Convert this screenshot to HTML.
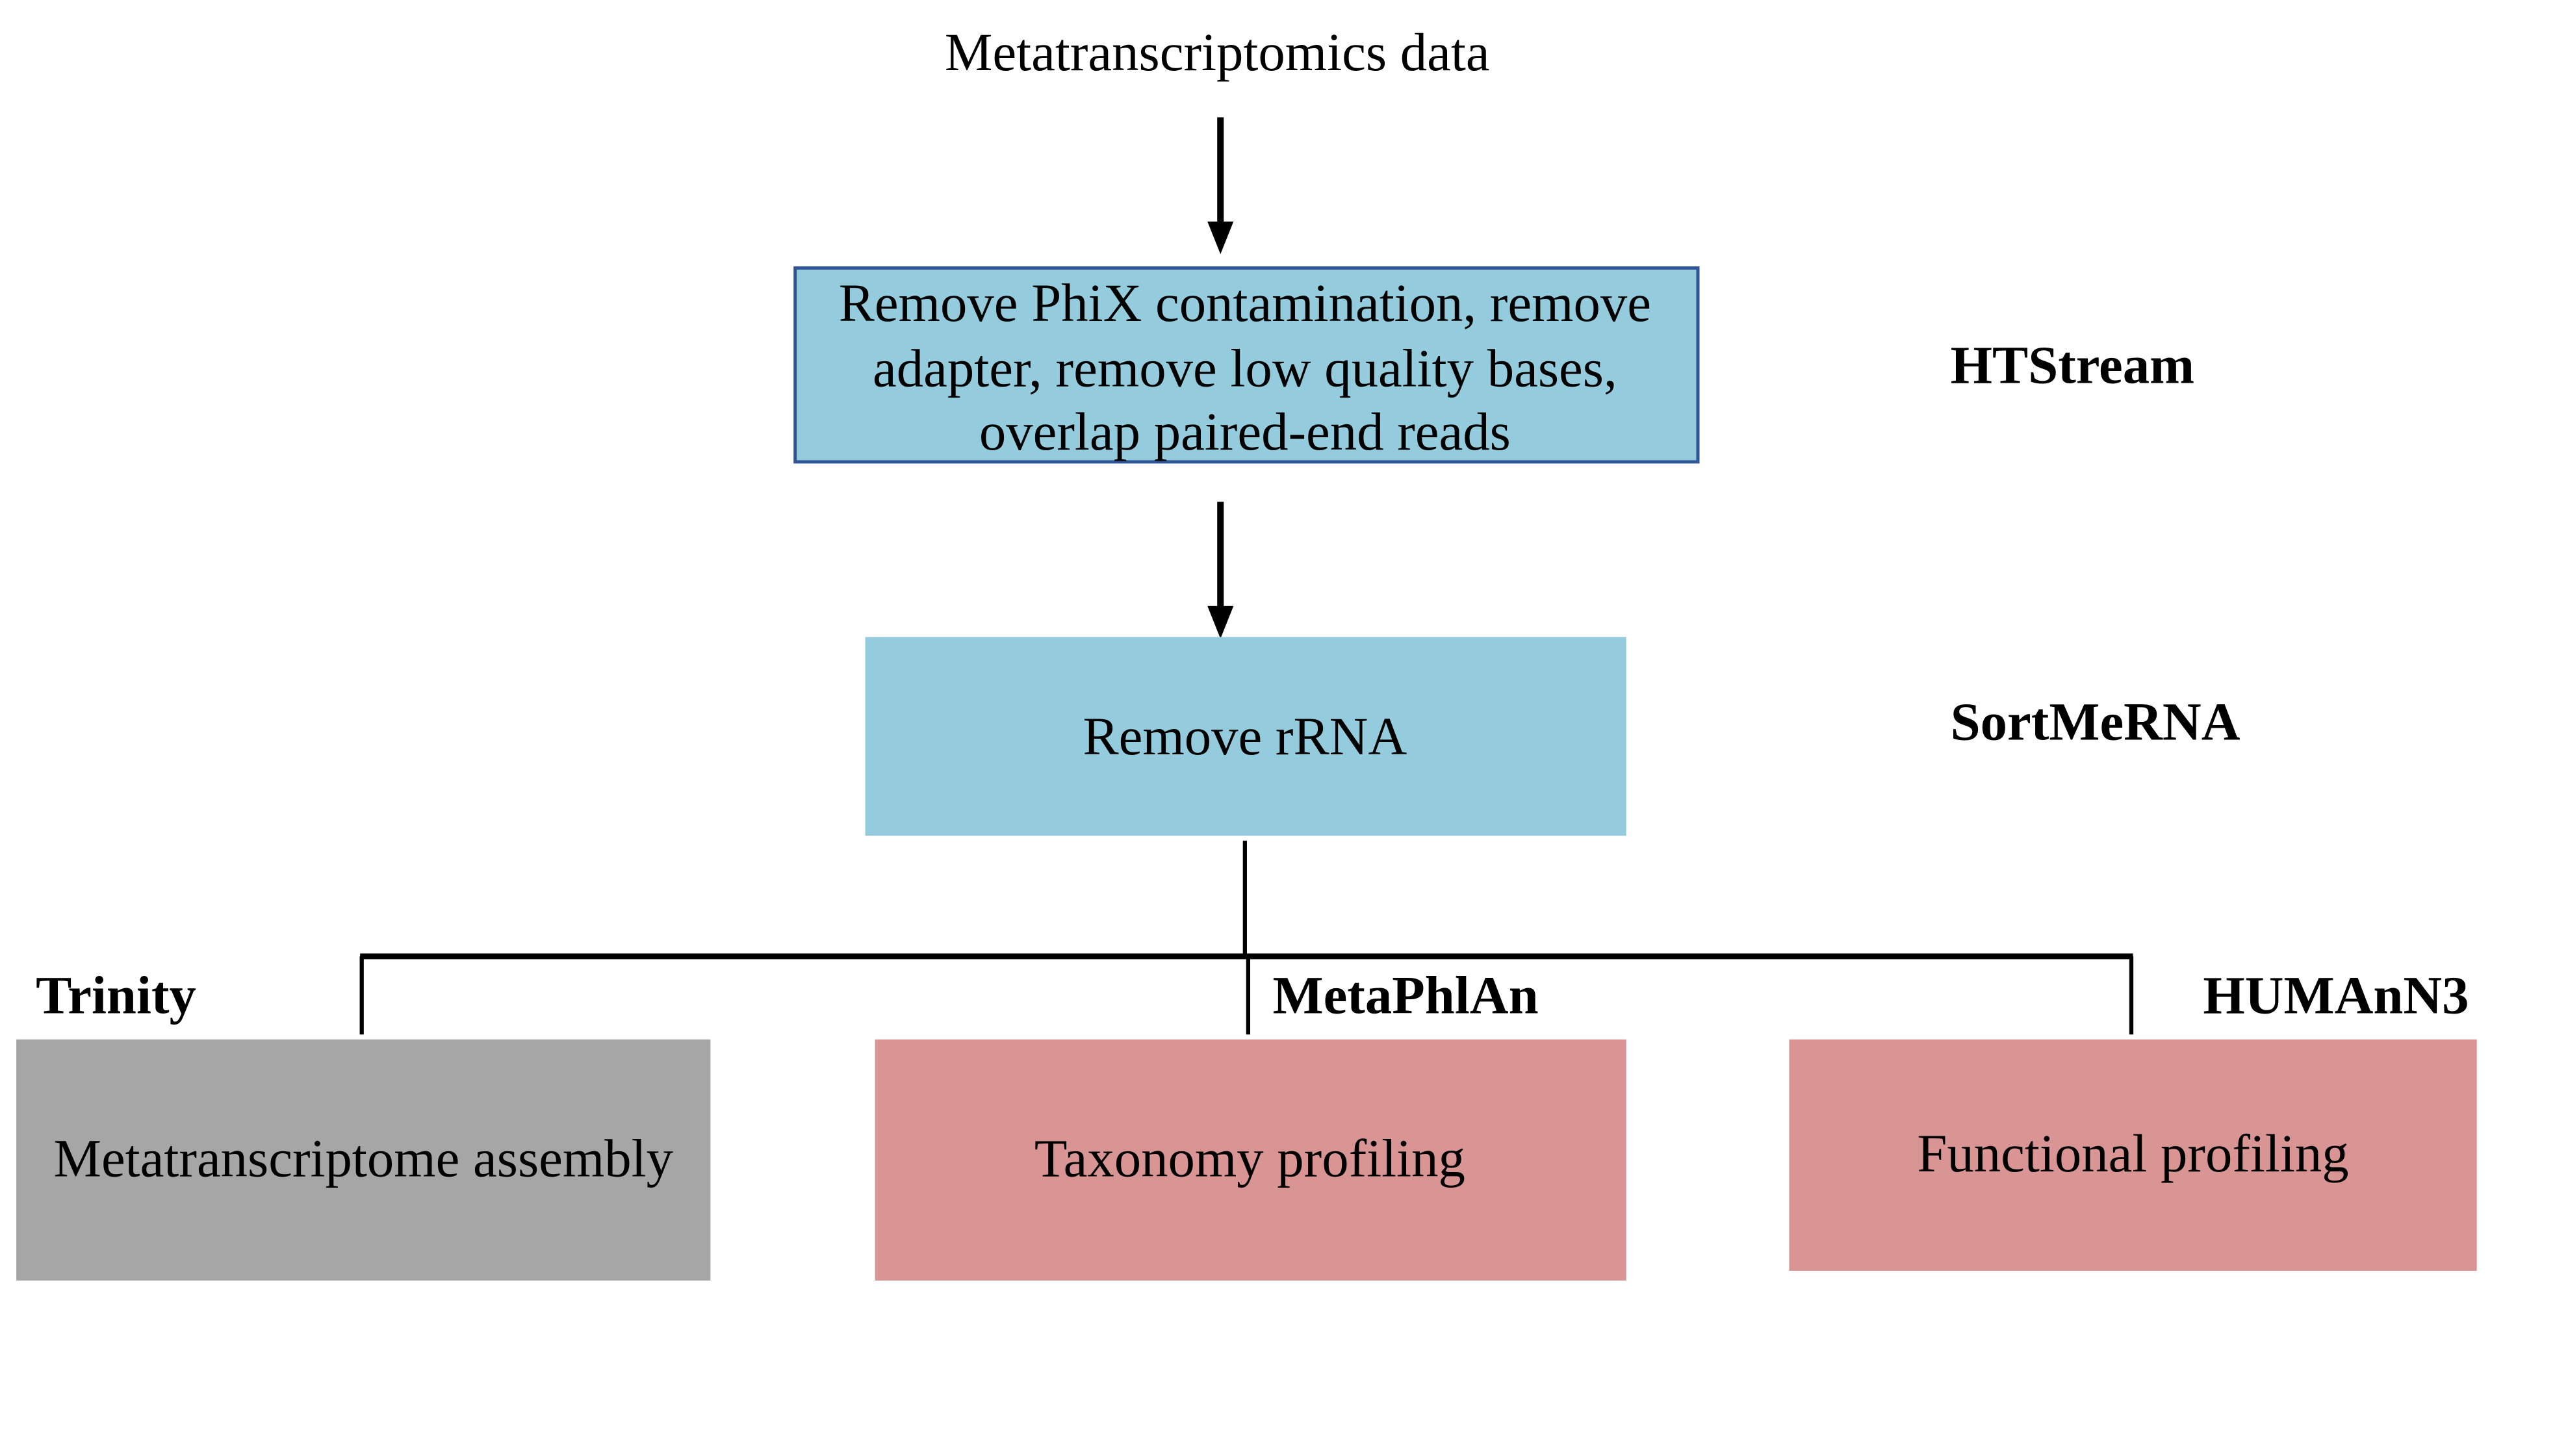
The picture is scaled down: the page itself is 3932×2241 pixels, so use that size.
<!DOCTYPE html>
<html><head><meta charset="utf-8"><style>html,body{margin:0;padding:0;background:#fff}svg{display:block}</style></head>
<body>
<svg width="3932" height="2241" viewBox="0 0 1568 893.7" preserveAspectRatio="none" xmlns="http://www.w3.org/2000/svg" font-family="'Liberation Serif', serif" font-size="33">
<rect width="1568" height="894" fill="#fff"/>
<text x="747" y="43" text-anchor="middle">Metatranscriptomics data</text>
<line x1="749" y1="72" x2="749" y2="138" stroke="#000" stroke-width="4"/>
<polygon points="741,136 757,136 749,156" fill="#000"/>
<rect x="488" y="164.5" width="554" height="119" fill="#94CCDD" stroke="#2F5597" stroke-width="2"/>
<text x="764" y="197" text-anchor="middle">Remove PhiX contamination, remove</text>
<text x="764" y="237" text-anchor="middle">adapter, remove low quality bases,</text>
<text x="764" y="276" text-anchor="middle">overlap paired-end reads</text>
<text x="1197" y="235" font-weight="bold">HTStream</text>
<line x1="749" y1="308" x2="749" y2="374" stroke="#000" stroke-width="4"/>
<polygon points="741,372 757,372 749,392" fill="#000"/>
<rect x="531" y="391" width="467" height="122" fill="#94CCDD"/>
<text x="764" y="463" text-anchor="middle">Remove rRNA</text>
<text x="1197" y="454" font-weight="bold">SortMeRNA</text>
<line x1="764" y1="516" x2="764" y2="587" stroke="#000" stroke-width="2.5"/>
<line x1="221" y1="587" x2="1309" y2="587" stroke="#000" stroke-width="3.5"/>
<line x1="222" y1="587" x2="222" y2="635" stroke="#000" stroke-width="2.5"/>
<line x1="766" y1="587" x2="766" y2="635" stroke="#000" stroke-width="2.5"/>
<line x1="1308" y1="587" x2="1308" y2="635" stroke="#000" stroke-width="2.5"/>
<text x="22" y="622" font-weight="bold">Trinity</text>
<text x="781" y="622" font-weight="bold">MetaPhlAn</text>
<text x="1352" y="622" font-weight="bold">HUMAnN3</text>
<rect x="10" y="638" width="426" height="148" fill="#A6A6A6"/>
<text x="223" y="722" text-anchor="middle">Metatranscriptome assembly</text>
<rect x="537" y="638" width="461" height="148" fill="#D99594"/>
<text x="767" y="722" text-anchor="middle">Taxonomy profiling</text>
<rect x="1098" y="638" width="422" height="142" fill="#D99594"/>
<text x="1309" y="719" text-anchor="middle">Functional profiling</text>
</svg>
</body></html>
